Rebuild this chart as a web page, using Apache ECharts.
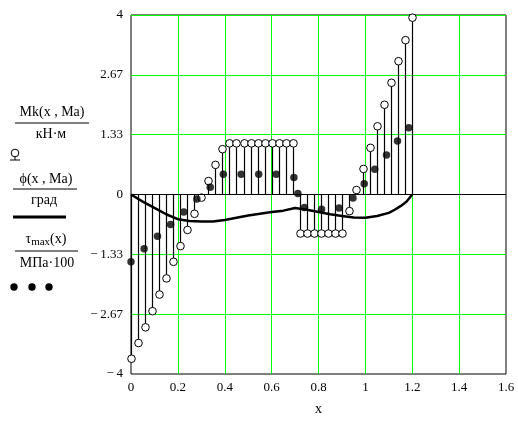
<!DOCTYPE html>
<html>
<head>
<meta charset="utf-8">
<script src="https://cdn.jsdelivr.net/npm/echarts@6/dist/echarts.min.js"></script>
<style>
  html, body { margin: 0; padding: 0; background: #fff; }
  #chart { width: 518px; height: 421px; }
</style>
</head>
<body>
<div id="chart"></div>
<script>
// Shaft coordinate, m
const mkX = [0, 0.03, 0.06, 0.09, 0.12, 0.15, 0.18, 0.21, 0.24, 0.27, 0.30, 0.33, 0.36, 0.39,
  0.42, 0.45, 0.48, 0.51, 0.54, 0.57, 0.60, 0.63, 0.66, 0.69,
  0.72, 0.75, 0.78, 0.81, 0.84, 0.87, 0.90,
  0.93, 0.96, 0.99, 1.02, 1.05, 1.08, 1.11, 1.14, 1.17, 1.20];
// Torque Mk, kN·m
const mkY = [-3.66, -3.31, -2.96, -2.60, -2.23, -1.87, -1.50, -1.15, -0.79, -0.43, -0.07, 0.30, 0.66, 1.01,
  1.14, 1.14, 1.14, 1.14, 1.14, 1.14, 1.14, 1.14, 1.14, 1.14,
  -0.87, -0.87, -0.87, -0.87, -0.87, -0.87, -0.87,
  -0.37, 0.10, 0.57, 1.04, 1.52, 2.00, 2.49, 2.97, 3.44, 3.94];

// Twist angle phi, deg
const phiX = [0, 0.05, 0.10, 0.15, 0.20, 0.25, 0.30, 0.35, 0.40, 0.45, 0.50, 0.55, 0.60, 0.65, 0.70,
  0.75, 0.80, 0.85, 0.90, 0.95, 1.00, 1.05, 1.10, 1.125, 1.15, 1.175, 1.20];
const phiY = [0, -0.16, -0.30, -0.44, -0.55, -0.59, -0.60, -0.60, -0.57, -0.52, -0.47, -0.43, -0.39, -0.36, -0.30,
  -0.34, -0.39, -0.44, -0.48, -0.51, -0.52, -0.48, -0.41, -0.34, -0.26, -0.16, 0];

// Max shear stress, MPa/100
const tauX = [0, 0.056, 0.113, 0.169, 0.225, 0.281, 0.338, 0.394, 0.47, 0.545, 0.62, 0.695,
  0.712, 0.74, 0.813, 0.888, 0.947, 0.995, 1.04, 1.09, 1.137, 1.185];
const tauY = [-1.50, -1.21, -0.93, -0.67, -0.39, -0.10, 0.16, 0.45, 0.45, 0.45, 0.45, 0.38,
  0.02, -0.29, -0.33, -0.30, -0.08, 0.24, 0.56, 0.88, 1.19, 1.49];

const xTicks = { min: 0, max: 1.6, step: 0.2 };
const yTicks = { min: -4, max: 4, step: 4 / 3 };

const SERIF = '"Liberation Serif", "Times New Roman", serif';
const GRID_GREEN = '#00ff00';

function fmt(v) {
  if (Math.abs(v) < 1e-9) return '0';
  const s = String(parseFloat(v.toFixed(2)));
  return v < 0 ? '\u2212\u2009' + s.slice(1) : s;
}

const zip = (a, b) => a.map((v, i) => [v, b[i]]);

const chart = echarts.init(document.getElementById('chart'), null, { renderer: 'canvas' });

const legendText = (x, y, text, extra) => Object.assign({
  type: 'text', x: x, y: y,
  style: { text: text, font: '14px ' + SERIF, fill: '#000', align: 'center', verticalAlign: 'middle' }
}, extra || {});
const hline = (x1, x2, y, w) => ({
  type: 'line', shape: { x1: x1, y1: y, x2: x2, y2: y },
  style: { stroke: '#000', lineWidth: w || 1 }
});

chart.setOption({
  animation: false,
  backgroundColor: '#fff',
  grid: {
    left: 131, right: 12, top: 15, bottom: 44,
    show: true, borderColor: '#000', borderWidth: 1, backgroundColor: 'transparent'
  },
  xAxis: {
    type: 'value', min: xTicks.min, max: xTicks.max, interval: xTicks.step,
    axisLine: { show: false, onZero: false }, axisTick: { show: false },
    splitLine: { show: true, showMinLine: false, showMaxLine: false, lineStyle: { color: GRID_GREEN, width: 1 } },
    axisLabel: { formatter: fmt, fontFamily: SERIF, fontSize: 13, color: '#000', margin: 7 },
    name: 'x', nameLocation: 'middle', nameGap: 28,
    nameTextStyle: { fontFamily: SERIF, fontSize: 14, color: '#000' }
  },
  yAxis: {
    type: 'value', min: yTicks.min, max: yTicks.max, interval: yTicks.step,
    axisLine: { show: false }, axisTick: { show: false },
    splitLine: { show: true, showMinLine: false, showMaxLine: false, lineStyle: { color: GRID_GREEN, width: 1 } },
    axisLabel: { formatter: fmt, fontFamily: SERIF, fontSize: 13, color: '#000', margin: 8 }
  },
  series: [
    {
      name: 'Mk',
      type: 'custom',
      coordinateSystem: 'cartesian2d',
      data: zip(mkX, mkY),
      renderItem: function (params, api) {
        const x = api.value(0), y = api.value(1);
        const p0 = api.coord([x, 0]);
        const p1 = api.coord([x, y]);
        const px = Math.round(p0[0]) + 0.5;
        return {
          type: 'group',
          children: [
            { type: 'line', shape: { x1: px, y1: p0[1], x2: px, y2: p1[1] },
              style: { stroke: '#000', lineWidth: 1.2 } },
            { type: 'circle', shape: { cx: px, cy: p1[1], r: 3.8 },
              style: { fill: '#fff', stroke: '#000', lineWidth: 1 } }
          ]
        };
      },
      markLine: {
        silent: true, symbol: 'none', label: { show: false },
        lineStyle: { color: '#000', width: 1, type: 'solid' },
        data: [{ yAxis: 0 }]
      },
      z: 3
    },
    {
      name: 'phi',
      type: 'line',
      data: zip(phiX, phiY),
      showSymbol: false,
      lineStyle: { color: '#000', width: 2.5 },
      z: 4
    },
    {
      name: 'tau',
      type: 'scatter',
      data: zip(tauX, tauY),
      symbol: 'circle',
      symbolSize: 7.5,
      itemStyle: { color: '#000' },
      z: 5
    }
  ],
  graphic: [
    // Mk(x, Ma) / кН·м
    legendText(52, 112, 'Mk(x , Ma)'),
    hline(15, 89, 123),
    legendText(51, 134, 'кН·м'),
    { type: 'circle', shape: { cx: 15, cy: 153, r: 3.8 }, style: { fill: '#fff', stroke: '#000', lineWidth: 1 } },
    { type: 'line', shape: { x1: 15, y1: 156.8, x2: 15, y2: 160 }, style: { stroke: '#000', lineWidth: 1 } },
    hline(10, 20, 160),
    // phi(x, Ma) / град
    legendText(46, 179, 'ϕ(x , Ma)'),
    hline(13, 77, 189),
    legendText(44, 200, 'град'),
    hline(13, 66, 217, 3),
    // tau_max(x) / МПа·100
    {
      type: 'text', x: 46, y: 239,
      style: {
        text: '{a|τ}{s|max}{a|(x)}',
        align: 'center', verticalAlign: 'middle',
        rich: {
          a: { font: '14px ' + SERIF, fill: '#000' },
          s: { font: '11px ' + SERIF, fill: '#000', padding: [6, 0, 0, 0] }
        }
      }
    },
    hline(15, 78, 251),
    legendText(47, 263, 'МПа·100'),
    { type: 'circle', shape: { cx: 14, cy: 287, r: 3.7 }, style: { fill: '#000' } },
    { type: 'circle', shape: { cx: 32, cy: 287, r: 3.7 }, style: { fill: '#000' } },
    { type: 'circle', shape: { cx: 49, cy: 287, r: 3.7 }, style: { fill: '#000' } }
  ]
});
</script>
</body>
</html>
